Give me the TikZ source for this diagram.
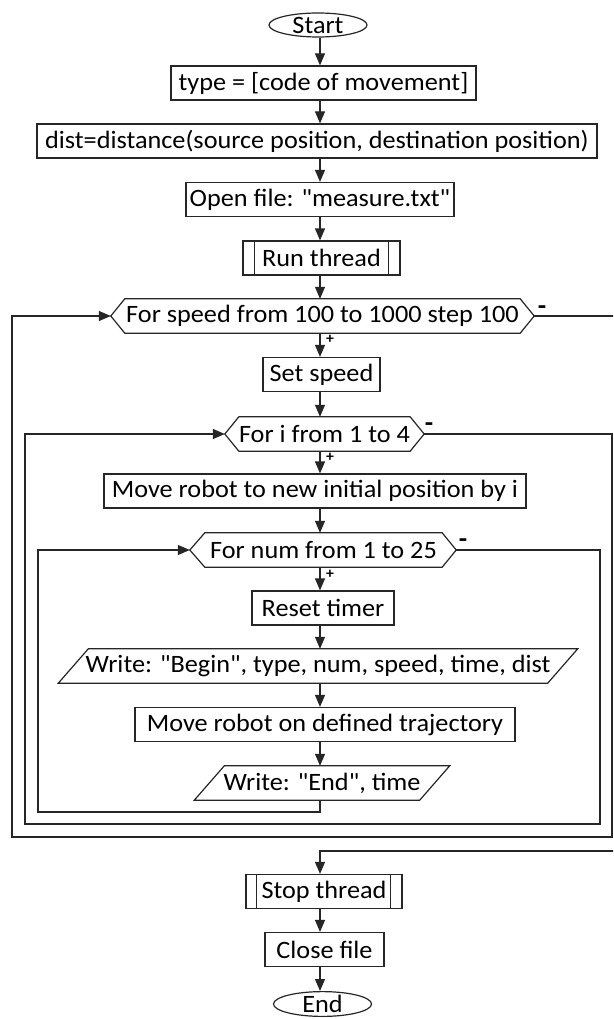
\documentclass[tikz,border=0pt]{standalone}
\usepackage{fontspec}
\setmainfont{Carlito}[FakeStretch=1.05, Ligatures=TeXOff]
\usetikzlibrary{arrows.meta,shapes.geometric,calc}
\begin{document}
\begin{tikzpicture}[x=1pt,y=-1pt,
  every node/.style={font=\fontsize{25}{28}\selectfont, inner sep=0pt, text=black},
  box/.style={draw=black!85, line width=1.2pt, minimum height=34pt},
  plain/.style={minimum height=34pt},
  term/.style={ellipse, draw=black!85, line width=1.2pt, minimum width=98pt, minimum height=24pt},
  flow/.style={draw=black!85, line width=1.2pt},
  arr/.style={flow, -{Triangle[length=12pt,width=10pt]}},
  sign/.style={font=\fontsize{26}{28}\selectfont\bfseries},
  plus/.style={font=\fontsize{15}{16}\selectfont\bfseries}
]
\useasboundingbox (0,0) rectangle (613,1019);
\clip (0,0) rectangle (613,1019);
\fill[white] (0,0) rectangle (613,1019);
\coordinate (ax) at (320,0);

% nodes
\node[term] (start) at (318,25) {Start};
\node[box, minimum width=305pt] (type) at (323.5,83) {type = [code of movement]};
\node[box, minimum width=560pt] (dist) at (317,141) {dist=distance(source position, destination position)};
\node[box, minimum width=268pt] (open) at (320,199.5) {Open file: "measure.txt"};
\node[box, minimum width=157pt] (run) at (321.5,258) {Run thread};
\draw[flow] ($(run.north west)+(12,0)$) -- ($(run.south west)+(12,0)$);
\draw[flow] ($(run.north east)+(-12,0)$) -- ($(run.south east)+(-12,0)$);

\node[plain, minimum width=395pt] (speed) at (322.5,316) {For speed from 100 to 1000 step 100};
\draw[flow] (speed.north west) -- (speed.north east) -- ($(speed.east)+(14,0)$) coordinate (speedR)
  -- (speed.south east) -- (speed.south west) -- ($(speed.west)+(-14,0)$) coordinate (speedL) -- cycle;

\node[box, minimum width=117pt] (setsp) at (321.5,374.5) {Set speed};

\node[plain, minimum width=169pt] (fi) at (324.5,434) {For i from 1 to 4};
\draw[flow] (fi.north west) -- (fi.north east) -- ($(fi.east)+(14,0)$) coordinate (fiR)
  -- (fi.south east) -- (fi.south west) -- ($(fi.west)+(-14,0)$) coordinate (fiL) -- cycle;

\node[box, minimum width=422pt] (move) at (315,491) {Move robot to new initial position by i};

\node[plain, minimum width=237pt] (fnum) at (323.5,550) {For num from 1 to 25};
\draw[flow] (fnum.north west) -- (fnum.north east) -- ($(fnum.east)+(14,0)$) coordinate (numR)
  -- (fnum.south east) -- (fnum.south west) -- ($(fnum.west)+(-15,0)$) coordinate (numL) -- cycle;

\node[box, minimum width=142pt] (reset) at (323,608) {Reset timer};

\node[plain, minimum width=489pt] (wb) at (318,666) {Write: "Begin", type, num, speed, time, dist};
\draw[flow] ($(wb.south west)+(-15,0)$) -- ($(wb.north west)+(15,0)$) -- ($(wb.north east)+(15,0)$) -- ($(wb.south east)+(-15,0)$) -- cycle;

\node[box, minimum width=380pt] (mt) at (325,724.5) {Move robot on defined trajectory};

\node[plain, minimum width=225pt] (we) at (322,783) {Write: "End", time};
\draw[flow] ($(we.south west)+(-15,0)$) -- ($(we.north west)+(15,0)$) -- ($(we.north east)+(15,0)$) -- ($(we.south east)+(-15,0)$) -- cycle;

\node[box, minimum width=156pt] (stop) at (324,891.5) {Stop thread};
\draw[flow] ($(stop.north west)+(11,0)$) -- ($(stop.south west)+(11,0)$);
\draw[flow] ($(stop.north east)+(-12,0)$) -- ($(stop.south east)+(-12,0)$);

\node[box, minimum width=119pt] (close) at (324.5,949.5) {Close file};
\node[term] (end) at (322.5,1004) {End};

% straight arrows
\draw[arr] (start.south -| ax) -- (type.north -| ax);
\draw[arr] (type.south -| ax) -- (dist.north -| ax);
\draw[arr] (dist.south -| ax) -- (open.north -| ax);
\draw[arr] (open.south -| ax) -- (run.north -| ax);
\draw[arr] (run.south -| ax) -- (speed.north -| ax);
\draw[arr] (speed.south -| ax) -- (setsp.north -| ax);
\draw[arr] (setsp.south -| ax) -- (fi.north -| ax);
\draw[arr] (fi.south -| ax) -- (move.north -| ax);
\draw[arr] (move.south -| ax) -- (fnum.north -| ax);
\draw[arr] (fnum.south -| ax) -- (reset.north -| ax);
\draw[arr] (reset.south -| ax) -- (wb.north -| ax);
\draw[arr] (wb.south -| ax) -- (mt.north -| ax);
\draw[arr] (mt.south -| ax) -- (we.north -| ax);
\draw[arr] (stop.south -| ax) -- (close.north -| ax);
\draw[arr] (close.south -| ax) -- (end.north -| ax);

% loops
\draw[arr] (we.south -| ax) |- (38,812) |- (numL);
\draw[arr] (numR) -| (600,824) -| (25,434) -- (fiL);
\draw[arr] (fiR) -| (612,837) -| (12,316) -- (speedL);
\draw[arr] (speedR) -| (630,851) -| (stop.north -| ax);

% signs
\node[sign] at (542,310) {-};
\node[sign] at (429,427) {-};
\node[sign] at (463,543) {-};
\node[plus] at (330,339) {+};
\node[plus] at (330,457) {+};
\node[plus] at (330,574) {+};
\end{tikzpicture}
\end{document}
